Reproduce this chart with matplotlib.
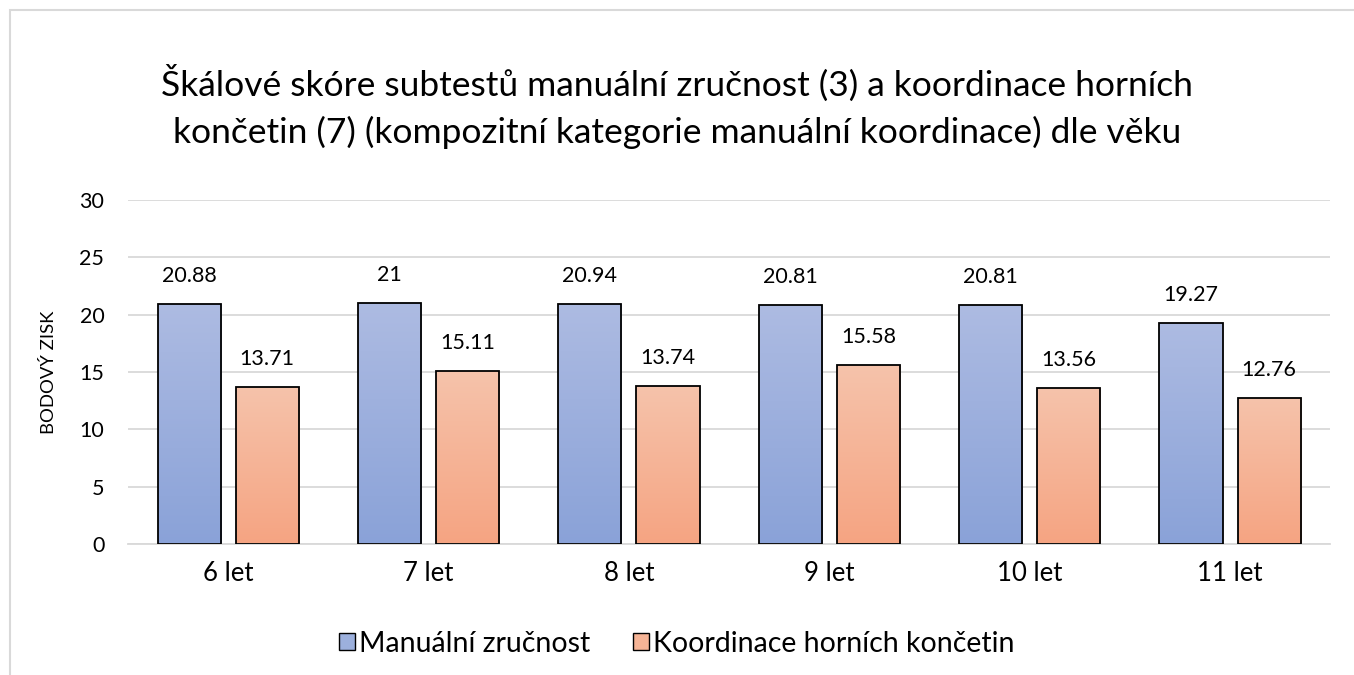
import matplotlib.pyplot as plt
import numpy as np
from matplotlib.colors import LinearSegmentedColormap
from matplotlib.patches import Rectangle, Patch

categories = ["6 let", "7 let", "8 let", "9 let", "10 let", "11 let"]
manualni = [20.88, 21, 20.94, 20.81, 20.81, 19.27]
koordinace = [13.71, 15.11, 13.74, 15.58, 13.56, 12.76]
series_names = ["Manuální zručnost", "Koordinace horních končetin"]
title = ("Škálové skóre subtestů manuální zručnost (3) a koordinace horních\n"
         "končetin (7) (kompozitní kategorie manuální koordinace) dle věku")

plt.rcParams['font.family'] = ['Lato', 'DejaVu Sans']

fig = plt.figure(figsize=(13.54, 6.75), dpi=100)
ax = fig.add_axes([0.0945, 0.194, 0.888, 0.510])

# light frame around the chart area
fig.patches.append(Rectangle((10 / 1354, -0.1), 1.2, 1 - 10 / 675 + 0.1,
                             transform=fig.transFigure, fill=False,
                             edgecolor="#d9d9d9", linewidth=1.5))

x = np.arange(len(categories))
width = 0.315
offset = 0.195

blue_cmap = LinearSegmentedColormap.from_list("b", ["#8aa2d8", "#adbbe2"])
orange_cmap = LinearSegmentedColormap.from_list("o", ["#f5a482", "#f6c3ab"])
grad = np.linspace(0, 1, 256).reshape(-1, 1)


def gradient_bars(xs, values, cmap, label):
    bars = ax.bar(xs, values, width, color="none", edgecolor="black",
                  linewidth=1.3, label=label, zorder=3)
    for b in bars:
        x0, y0 = b.get_x(), b.get_y()
        im = ax.imshow(grad, extent=[x0, x0 + b.get_width(), y0, y0 + b.get_height()],
                       origin="lower", cmap=cmap, aspect="auto", zorder=2)
        im.set_clip_path(b)
    for b, v in zip(bars, values):
        ax.annotate(f"{v:g}", (b.get_x() + b.get_width() / 2, v),
                    xytext=(0, 13), textcoords="offset points",
                    ha="center", va="bottom", fontsize=15.5)
    return bars


gradient_bars(x - offset, manualni, blue_cmap, series_names[0])
gradient_bars(x + offset, koordinace, orange_cmap, series_names[1])

ax.set_xlim(-0.5, len(categories) - 0.5)
ax.set_ylim(0, 30)
ax.set_yticks(range(0, 31, 5))
ax.set_xticks(x)
ax.set_xticklabels(categories, fontsize=18.5)
ax.tick_params(axis="y", labelsize=15.5, length=0, pad=17)
ax.tick_params(axis="x", length=0, pad=12)
ax.grid(axis="y", color="#d9d9d9", linewidth=1.3, zorder=0)
ax.set_axisbelow(True)
for s in ["top", "right", "left"]:
    ax.spines[s].set_visible(False)
ax.spines["bottom"].set_color("#d9d9d9")
ax.spines["bottom"].set_linewidth(1.3)
ax.set_ylabel("BODOVÝ ZISK", fontsize=13.3, labelpad=16)

handles = [Patch(facecolor="#9cb0dd", edgecolor="black", linewidth=1),
           Patch(facecolor="#f6b496", edgecolor="black", linewidth=1)]
fig.legend(handles, series_names, loc="center", bbox_to_anchor=(0.5, 0.046),
           ncol=2, frameon=False, fontsize=20.5, handlelength=0.55,
           handleheight=0.55, handletextpad=0.15, columnspacing=1.5)

fig.text(0.5, 0.842, title, ha="center", va="center", fontsize=25.5,
         linespacing=1.5)

fig.savefig("out.png", dpi=100, facecolor="white")
